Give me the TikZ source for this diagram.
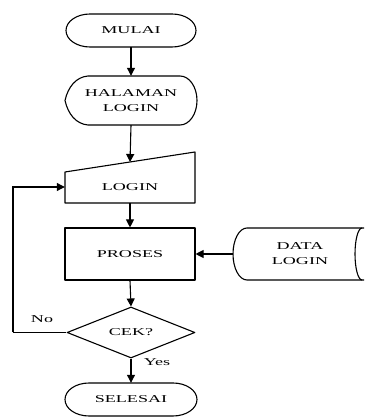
\documentclass[tikz,border=0pt]{standalone}
\usepackage{fontspec}
\setmainfont{Liberation Serif}
\newfontfamily\flowfont[FakeStretch=1.72]{Liberation Serif}
\usetikzlibrary{arrows.meta,shapes.geometric}
\begin{document}
\begin{tikzpicture}[x=1pt,y=1pt,
  outline/.style={draw=black,line width=1.1pt,line join=round},
  lbl/.style={font=\flowfont\fontsize{10.5}{15}\selectfont,inner sep=0pt,align=center},
  flow/.style={line width=1.1pt,-{Triangle[length=8pt,width=8pt]}},
  plain/.style={line width=1.1pt}]
\useasboundingbox (0,0) rectangle (364,417);

% terminator: MULAI
\draw[outline] (90,403) -- (172,403) arc[start angle=90,end angle=-90,x radius=24,y radius=16.5]
  -- (90,370) arc[start angle=270,end angle=90,x radius=24,y radius=16.5] -- cycle;
\node[lbl,minimum width=130,minimum height=33] (mulai) at (131,386.5) {MULAI};

% display: HALAMAN LOGIN
\draw[outline] (88,341) -- (180,341) arc[start angle=90,end angle=-90,x radius=17,y radius=24.5]
  -- (88,292) .. controls (76,293) and (68,303) .. (65,316.5)
  .. controls (68,330) and (76,340) .. (88,341) -- cycle;
\node[lbl,minimum width=132,minimum height=49] (halaman) at (131,316.5) {HALAMAN\\LOGIN};

% manual input: LOGIN
\draw[outline] (65,214) -- (195,214) -- (195,265) -- (65,245) -- cycle;
\node[lbl,minimum width=130,minimum height=32] (login) at (130,230) {LOGIN};
\coordinate (logintop) at (130,255);

% process: PROSES
\node[lbl,outline,minimum width=130,minimum height=52] (proses) at (130,163) {PROSES};

% stored data: DATA LOGIN
\draw[outline] (364,189) -- (247,189) arc[start angle=90,end angle=270,x radius=14,y radius=26] -- (364,137);
\draw[outline] (362,189) arc[start angle=90,end angle=270,x radius=7,y radius=26];
\node[lbl,minimum width=134,minimum height=52] (data) at (300,163) {DATA\\LOGIN};

% decision: CEK?
\node[lbl,outline,diamond,aspect=2.5,minimum width=128,minimum height=51] (cek) at (131,84.5) {CEK?};

% terminator: SELESAI
\draw[outline] (89,34) -- (173,34) arc[start angle=90,end angle=-90,x radius=24,y radius=16.5]
  -- (89,1) arc[start angle=270,end angle=90,x radius=24,y radius=16.5] -- cycle;
\node[lbl,minimum width=132,minimum height=33] (selesai) at (131,17.5) {SELESAI};

% connectors
\draw[flow] (mulai.south) -- (halaman.north);
\draw[flow] (halaman.south) -- (logintop);
\draw[flow] (login.south) -- (proses.north);
\draw[flow] (data.west) -- (proses.east);
\draw[flow] (proses.south) -- (cek.north);
\draw[flow] (cek.south) -- (selesai.north);
\coordinate (loopcorner) at (13,84.5);
\draw[plain] (cek.west) -- (loopcorner);
\draw[flow] (loopcorner) |- (login.west);

% branch labels
\node[lbl] (nolbl) at (42,98) {No};
\node[lbl] (yeslbl) at (157,55) {Yes};
\end{tikzpicture}
\end{document}
